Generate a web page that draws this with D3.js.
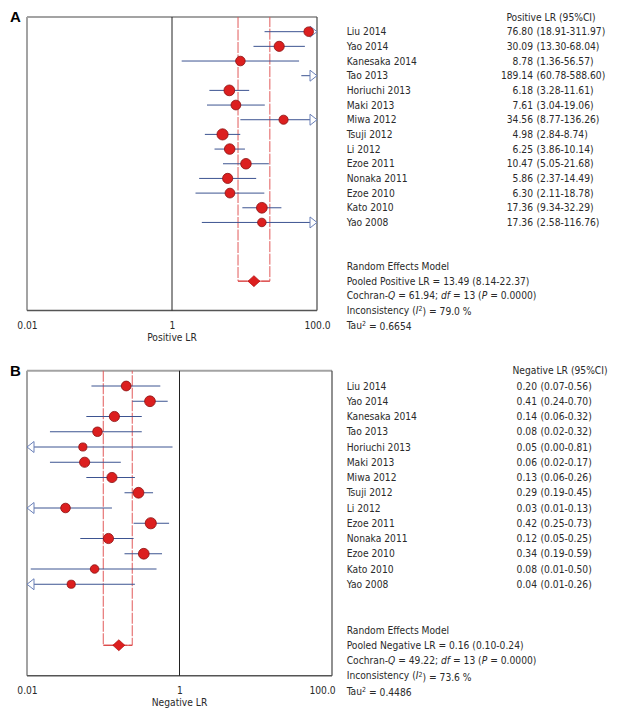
<!DOCTYPE html>
<html><head><meta charset="utf-8">
<script src="https://cdn.jsdelivr.net/npm/d3@7"></script>
<style>
body{margin:0;background:#fff;}
svg text{font-family:"DejaVu Sans Condensed","DejaVu Sans",sans-serif;font-stretch:condensed;font-size:10.2px;fill:#2a2a2a;}
</style></head>
<body><svg id="chart" width="619" height="718"></svg>
<script>
const studies = ["Liu 2014","Yao 2014","Kanesaka 2014","Tao 2013","Horiuchi 2013","Maki 2013","Miwa 2012","Tsuji 2012","Li 2012","Ezoe 2011","Nonaka 2011","Ezoe 2010","Kato 2010","Yao 2008"];

const posEst = [76.80,30.09,8.78,189.14,6.18,7.61,34.56,4.98,6.25,10.47,5.86,6.30,17.36,17.36];
const posLo  = [18.91,13.30,1.36,60.78,3.28,3.04,8.77,2.84,3.86,5.05,2.37,2.11,9.34,2.58];
const posHi  = [311.97,68.04,56.57,588.60,11.61,19.06,136.26,8.74,10.14,21.68,14.49,18.78,32.29,116.76];
const posWeight = [7.5,8.4,7.5,8.0,9.3,7.8,6.9,10,9.0,9.0,8.4,7.8,9.3,6.1];

const negEst = [0.20,0.41,0.14,0.084,0.054,0.057,0.13,0.29,0.032,0.42,0.117,0.34,0.077,0.038];
const negLo  = [0.07,0.24,0.06,0.02,0.004,0.02,0.06,0.19,0.006,0.25,0.05,0.19,0.0112,0.006];
const negHi  = [0.56,0.70,0.32,0.32,0.81,0.17,0.26,0.45,0.13,0.73,0.25,0.59,0.50,0.26];
const negWeight = [7.8,9.3,8.4,7.5,5.6,8.4,8.4,9.3,7.5,10,8.4,9.3,6.1,5.6];

const tickValues = [0.01, 1, 100];
const tickLabels = ["0.01", "1", "100.0"];

const panels = [
  {letter:"A", est:posEst, lo:posLo, hi:posHi, w:posWeight,
   header:"Positive LR (95%CI)", axisTitle:"Positive LR",
   pooled:13.49, pooledLo:8.14, pooledHi:22.37, pooledText:"Pooled Positive LR = 13.49 (8.14-22.37)",
   q:"61.94", df:"13", p:"0.0000", i2:"79.0", tau:"0.6654",
   left:27, right:317, top:17, bottom:310.5, estX:533, headerX:551, lastTickDx:0},
  {letter:"B", est:negEst, lo:negLo, hi:negHi, w:negWeight,
   header:"Negative LR (95%CI)", axisTitle:"Negative LR",
   pooled:0.16, pooledLo:0.10, pooledHi:0.24, pooledText:"Pooled Negative LR = 0.16 (0.10-0.24)",
   q:"49.22", df:"13", p:"0.0000", i2:"73.6", tau:"0.4486",
   left:27, right:332, top:370.75, bottom:675.75, estX:537, headerX:560, lastTickDx:-10}
];

const svg = d3.select("#chart");
const r = d3.scaleSqrt().domain([0,10]).range([0,6]);
const lineCol = "#3d5491", redCol = "#dc1f1f", nameX = 346.7;

panels.forEach(p => {
  const g = svg.append("g");
  const x = d3.scaleLog().domain([0.01,100]).range([p.left,p.right]);
  const y = d3.scaleLinear().domain([-1,19]).range([p.top,p.bottom]);
  const [xmin,xmax] = x.domain();

  g.append("text").attr("x",10).attr("y",p.top+5).text(p.letter)
    .style("font-family","Liberation Sans, Arial, sans-serif").style("font-weight","bold").style("font-size","15px").style("fill","#000");

  // box
  g.append("line").attr("x1",p.left).attr("x2",p.right).attr("y1",p.top).attr("y2",p.top).attr("stroke","#a3a3a3").attr("stroke-width",2);
  g.append("line").attr("x1",p.left).attr("x2",p.left).attr("y1",p.top).attr("y2",p.bottom).attr("stroke","#a3a3a3").attr("stroke-width",2);
  g.append("line").attr("x1",p.right).attr("x2",p.right).attr("y1",p.top).attr("y2",p.bottom).attr("stroke","#555").attr("stroke-width",1.3);
  g.append("line").attr("x1",p.left).attr("x2",p.right).attr("y1",p.bottom).attr("y2",p.bottom).attr("stroke","#555").attr("stroke-width",1.3);
  // null line
  g.append("line").attr("x1",x(1)).attr("x2",x(1)).attr("y1",p.top).attr("y2",p.bottom).attr("stroke","#222").attr("stroke-width",1);

  // pooled CI rectangle
  const yd = y(17);
  g.append("path")
    .attr("d",`M${x(p.pooledLo)},${p.top}V${yd}H${x(p.pooledHi)}V${p.top}`)
    .attr("fill","none").attr("stroke","#e25a5a").attr("stroke-width",1).attr("stroke-dasharray","11,1.5");
  g.append("line").attr("x1",x(p.pooledLo)).attr("x2",x(p.pooledHi)).attr("y1",yd).attr("y2",yd).attr("stroke","#d83a3a").attr("stroke-width",1);
  const dx = x(p.pooled);
  g.append("path").attr("d",`M${dx-6},${yd}L${dx},${yd-5.5}L${dx+6},${yd}L${dx},${yd+5.5}Z`)
    .attr("fill",redCol).attr("stroke","#a00").attr("stroke-width",0.6);

  // study rows
  studies.forEach((s,i) => {
    const yy = y(i);
    const lo = Math.max(p.lo[i], xmin), hi = Math.min(p.hi[i], xmax);
    g.append("line").attr("x1",x(lo)).attr("x2",x(hi)).attr("y1",yy).attr("y2",yy).attr("stroke",lineCol).attr("stroke-width",1);
    if (p.hi[i] > xmax) {
      const t = x(xmax);
      g.append("path").attr("d",`M${t-7},${yy-5.5}L${t},${yy}L${t-7},${yy+5.5}Z`).attr("fill","#fff").attr("stroke","#6a80b8").attr("stroke-width",1);
    }
    if (p.lo[i] < xmin) {
      const t = x(xmin);
      g.append("path").attr("d",`M${t+7},${yy-5.5}L${t},${yy}L${t+7},${yy+5.5}Z`).attr("fill","#fff").attr("stroke","#6a80b8").attr("stroke-width",1);
    }
    if (p.est[i] >= xmin && p.est[i] <= xmax) {
      g.append("circle").attr("cx",x(p.est[i])).attr("cy",yy).attr("r",r(p.w[i])-0.4)
        .attr("fill",redCol).attr("stroke","#8a1010").attr("stroke-width",0.8);
    }
    g.append("text").attr("x",nameX).attr("y",yy).attr("dy","0.35em").text(s);
    g.append("text").attr("x",p.estX).attr("y",yy).attr("dy","0.35em").attr("text-anchor","end").text(p.est[i].toFixed(2));
    g.append("text").attr("x",p.estX+3.5).attr("y",yy).attr("dy","0.35em").text(`(${p.lo[i].toFixed(2)}-${p.hi[i].toFixed(2)})`);
  });

  g.append("text").attr("x",p.headerX).attr("y",y(-1)).attr("dy","0.35em").attr("text-anchor","middle").text(p.header);

  // summary text
  g.append("text").attr("x",nameX).attr("y",y(16)).attr("dy","0.35em").text("Random Effects Model");
  g.append("text").attr("x",nameX).attr("y",y(17)).attr("dy","0.35em").text(p.pooledText);
  const t3 = g.append("text").attr("x",nameX).attr("y",y(18)).attr("dy","0.35em");
  t3.append("tspan").text("Cochran-");
  t3.append("tspan").style("font-style","italic").text("Q");
  t3.append("tspan").text(` = ${p.q}; `);
  t3.append("tspan").style("font-style","italic").text("df");
  t3.append("tspan").text(` = ${p.df} (`);
  t3.append("tspan").style("font-style","italic").text("P");
  t3.append("tspan").text(` = ${p.p})`);
  const t4 = g.append("text").attr("x",nameX).attr("y",y(19)).attr("dy","0.35em");
  t4.append("tspan").text("Inconsistency (");
  t4.append("tspan").style("font-style","italic").text("I");
  t4.append("tspan").attr("dy","-0.4em").style("font-size","7px").text("2");
  t4.append("tspan").attr("dy","0.4em").text(`) = ${p.i2} %`);
  const t5 = g.append("text").attr("x",nameX).attr("y",y(20)).attr("dy","0.35em");
  t5.append("tspan").text("Tau");
  t5.append("tspan").attr("dy","-0.4em").style("font-size","7px").text("2");
  t5.append("tspan").attr("dy","0.4em").text(` = ${p.tau}`);

  // axis
  const ax = g.append("g").attr("transform",`translate(0,${p.bottom+8})`)
    .call(d3.axisBottom(x).tickValues(tickValues).tickSize(0).tickFormat((d,i)=>tickLabels[i]));
  ax.select(".domain").remove();
  ax.selectAll("text").attr("dy","0.71em");
  ax.selectAll(".tick").filter((d,i)=>i===2).select("text").attr("dx",p.lastTickDx);
  ax.attr("font-family",null).attr("font-size",null);
  g.append("text").attr("x",x(1)).attr("y",p.bottom+27).attr("dy","0.35em").attr("text-anchor","middle").text(p.axisTitle);
});
</script>
</body></html>
